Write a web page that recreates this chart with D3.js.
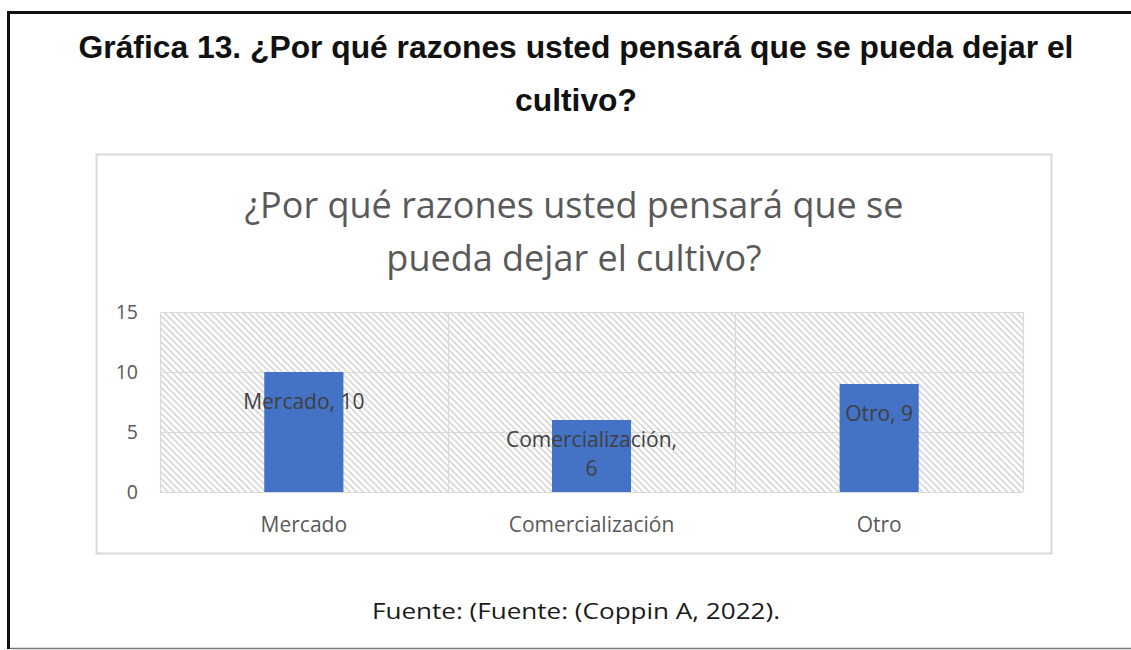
<!DOCTYPE html>
<html>
<head>
<meta charset="utf-8">
<script src="https://cdn.jsdelivr.net/npm/d3@7"></script>
<style>
  html, body { margin: 0; padding: 0; background: #fff; }
  svg { display: block; }
</style>
</head>
<body>
<svg id="chart" width="1131" height="650"></svg>
<script>
// Survey answers: reasons the crop might be abandoned
const categories = ["Mercado", "Comercialización", "Otro"];
const values = [10, 6, 9];
const dataLabels = [["Mercado, 10"], ["Comercialización,", "6"], ["Otro, 9"]];
const yTicks = [0, 5, 10, 15];

const heading = ["Gráfica 13. ¿Por qué razones usted pensará que se pueda dejar el", "cultivo?"];
const chartTitle = ["¿Por qué razones usted pensará que se", "pueda dejar el cultivo?"];
const source = "Fuente: (Fuente: (Coppin A, 2022).";

const svg = d3.select("#chart");
const W = 1131, H = 650;

// Page frame
svg.append("line").attr("x1", 8.5).attr("x2", 8.5).attr("y1", 11).attr("y2", 649)
  .attr("stroke", "#111").attr("stroke-width", 3);
svg.append("line").attr("x1", 7).attr("x2", W).attr("y1", 12.5).attr("y2", 12.5)
  .attr("stroke", "#111").attr("stroke-width", 3);
svg.append("line").attr("x1", 10).attr("x2", W).attr("y1", 648.5).attr("y2", 648.5)
  .attr("stroke", "#777").attr("stroke-width", 1.5);

// Document heading
svg.append("g").selectAll("text").data(heading).join("text")
  .attr("x", 576).attr("y", (d, i) => 58 + i * 53)
  .attr("text-anchor", "middle")
  .attr("font-family", "Liberation Sans, Arial, sans-serif")
  .attr("font-weight", "bold").attr("font-size", 31.8)
  .attr("fill", "#111")
  .text(d => d);

// Chart box
svg.append("rect").attr("x", 96.5).attr("y", 154.5).attr("width", 955).attr("height", 399)
  .attr("fill", "#fff").attr("stroke", "#d9d9d9").attr("stroke-width", 2);

svg.append("g").selectAll("text").data(chartTitle).join("text")
  .attr("x", 574).attr("y", (d, i) => 218 + i * 53)
  .attr("text-anchor", "middle")
  .attr("font-family", "Open Sans, sans-serif")
  .attr("font-size", 36)
  .attr("fill", "#595959")
  .text(d => d);

// Plot area
const plot = { left: 160, right: 1023, top: 312, bottom: 492 };

const x = d3.scaleBand().domain(categories)
  .range([plot.left, plot.right])
  .paddingInner(0.725).paddingOuter(0.3625);
const xCat = d3.scaleBand().domain(categories).range([plot.left, plot.right]).padding(0);
const y = d3.scaleLinear().domain([0, 15]).range([plot.bottom, plot.top]);

const defs = svg.append("defs");
const pat = defs.append("pattern").attr("id", "hatch")
  .attr("patternUnits", "userSpaceOnUse").attr("width", 4.6).attr("height", 4.6)
  .attr("patternTransform", "rotate(-45)");
pat.append("rect").attr("width", 4.6).attr("height", 4.6).attr("fill", "#fff");
pat.append("line").attr("x1", 1).attr("x2", 1).attr("y1", 0).attr("y2", 4.6)
  .attr("stroke", "#d4d4d4").attr("stroke-width", 1.6);

svg.append("rect").attr("x", plot.left).attr("y", plot.top)
  .attr("width", plot.right - plot.left).attr("height", plot.bottom - plot.top)
  .attr("fill", "url(#hatch)");

// Gridlines
const grid = svg.append("g").attr("stroke", "#d9d9d9").attr("stroke-width", 1.2);
grid.selectAll("line.h").data(yTicks).join("line").attr("class", "h")
  .attr("x1", plot.left).attr("x2", plot.right)
  .attr("y1", d => Math.round(y(d)) + 0.5).attr("y2", d => Math.round(y(d)) + 0.5);
const bounds = categories.map(c => xCat(c)).concat([plot.right]);
grid.selectAll("line.v").data(bounds).join("line").attr("class", "v")
  .attr("x1", d => Math.round(d) + 0.5).attr("x2", d => Math.round(d) + 0.5)
  .attr("y1", plot.top).attr("y2", plot.bottom);

// Y axis labels
const yAxis = svg.append("g").attr("transform", `translate(${plot.left - 22},0)`)
  .call(d3.axisLeft(y).tickValues(yTicks).tickSize(0).tickPadding(0));
yAxis.select(".domain").remove();
yAxis.selectAll("text").attr("font-family", "Open Sans, sans-serif")
  .attr("font-size", 19.5).attr("fill", "#595959");

// X axis labels
const xAxis = svg.append("g").attr("transform", `translate(0,${plot.bottom})`)
  .call(d3.axisBottom(xCat).tickSize(0).tickPadding(25));
xAxis.select(".domain").remove();
xAxis.selectAll("text").attr("font-family", "Open Sans, sans-serif")
  .attr("font-size", 21).attr("fill", "#595959");

// Bars
svg.append("g").selectAll("rect").data(values).join("rect")
  .attr("x", (d, i) => x(categories[i]))
  .attr("y", d => y(d))
  .attr("width", x.bandwidth())
  .attr("height", d => y(0) - y(d))
  .attr("fill", "#4472c4");

// Data labels
const lbl = svg.append("g");
values.forEach((v, i) => {
  const lines = dataLabels[i];
  const cx = x(categories[i]) + x.bandwidth() / 2;
  const startY = lines.length > 1 ? y(v) + 26.5 : y(v) + 37;
  lines.forEach((t, j) => {
    lbl.append("text").attr("x", cx).attr("y", startY + j * 29)
      .attr("text-anchor", "middle")
      .attr("font-family", "Open Sans, sans-serif")
      .attr("font-size", 21).attr("fill", "#404040")
      .text(t);
  });
});

// Source line
svg.append("text").attr("x", 576).attr("y", 619)
  .attr("text-anchor", "middle")
  .attr("font-family", "Open Sans, sans-serif")
  .attr("font-size", 21).attr("fill", "#1a1a1a")
  .attr("textLength", 408).attr("lengthAdjust", "spacingAndGlyphs")
  .text(source);
</script>
</body>
</html>
